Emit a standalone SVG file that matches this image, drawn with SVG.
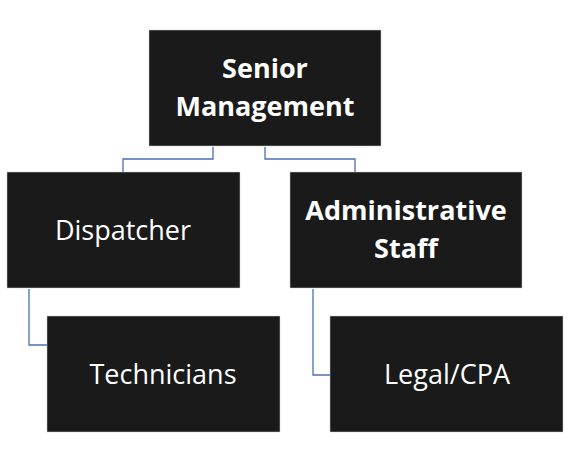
<svg xmlns="http://www.w3.org/2000/svg" width="573" height="451" viewBox="0 0 573 451">
<style>
.box{fill:#1a1a1a;stroke:#ccc;stroke-width:0.5}
.t{fill:#fff;font-family:"Open Sans","Liberation Sans",sans-serif;font-size:27px;text-anchor:middle}
.b{font-weight:bold}
.c{fill:none;stroke:#4a70b0;stroke-width:1.3}
</style>
<rect width="573" height="451" fill="#fff"/>
<g id="connectors">
<path class="c" d="M213 147V159H123V172"/>
<path class="c" d="M265 147V159H355V172"/>
<path class="c" d="M29 289V345H47"/>
<path class="c" d="M313 289V375H330"/>
</g>
<g id="senior"><rect class="box" x="149" y="30" width="232" height="116"/>
<text class="t b" x="265" y="78">Senior</text><text class="t b" x="265" y="116">Management</text></g>
<g id="dispatcher"><rect class="box" x="7" y="172" width="233" height="116"/>
<text class="t" x="123" y="240">Dispatcher</text></g>
<g id="admin"><rect class="box" x="290" y="172" width="232" height="116"/>
<text class="t b" x="406" y="220">Administrative</text><text class="t b" x="406" y="258">Staff</text></g>
<g id="technicians"><rect class="box" x="47" y="316" width="233" height="116"/>
<text class="t" x="163" y="384">Technicians</text></g>
<g id="legal"><rect class="box" x="330" y="316" width="233" height="116"/>
<text class="t" x="447" y="384">Legal/CPA</text></g>
</svg>
